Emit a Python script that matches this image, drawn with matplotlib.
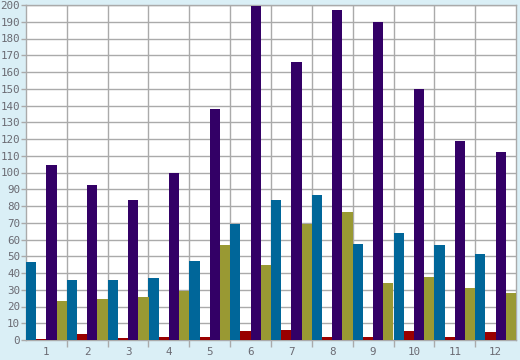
import numpy as np
import matplotlib.pyplot as plt
from matplotlib.ticker import MultipleLocator, FixedLocator

months = ["1", "2", "3", "4", "5", "6", "7", "8", "9", "10", "11", "12"]
blue_vals = [46.7, 35.8, 35.8, 37.0, 47.2, 69.3, 83.6, 86.6, 57.3, 63.9, 56.7, 51.3]
red_vals = [0.4, 3.6, 1.2, 1.8, 2.0, 5.4, 6.0, 1.8, 1.8, 5.4, 1.8, 4.8]
purple_vals = [104.5, 92.5, 83.6, 99.7, 137.9, 199.4, 166.0, 197.0, 189.9, 149.9, 118.8, 112.2]
olive_vals = [23.3, 24.5, 25.7, 29.3, 56.7, 44.8, 69.3, 76.4, 34.0, 37.6, 31.0, 28.0]

bg = "#daeff6"
grid_c = "#aaaaaa"
txt_c = "#6a6a72"

fig = plt.figure(figsize=(5.2, 3.6), dpi=100, facecolor=bg)
ax = fig.add_axes([26/520, 20/360, 490/520, 335/360])
ax.set_facecolor("white")

x = np.arange(len(months))
w = 0.25
series = [(blue_vals, "#006699"), (red_vals, "#990000"),
          (purple_vals, "#330066"), (olive_vals, "#999933")]
for k, (vals, col) in enumerate(series):
    ax.bar(x - 0.375 + k * w, vals, width=w, color=col, linewidth=0, zorder=3)

ax.set_xlim(-0.5, len(months) - 0.5)
ax.set_ylim(0, 200)
ax.yaxis.set_major_locator(MultipleLocator(10))

# group separators as ticks/grid, labels at group centres
ax.xaxis.set_major_locator(FixedLocator(x))
ax.set_xticklabels(months)
ax.xaxis.set_minor_locator(FixedLocator(np.arange(0.5, len(months) - 0.5, 1)))
ax.tick_params(axis="x", which="major", length=0, pad=5)
ax.tick_params(axis="x", which="minor", length=5, color=grid_c, width=1)
ax.tick_params(axis="y", length=3.5, color=grid_c, width=1, pad=0.8)
ax.tick_params(labelsize=7.8, labelcolor=txt_c)
for lab in ax.get_xticklabels() + ax.get_yticklabels():
    lab.set_family("DejaVu Sans Mono")

ax.grid(True, axis="y", which="major", color=grid_c, linewidth=1, zorder=0)
ax.grid(True, axis="x", which="minor", color=grid_c, linewidth=1, zorder=0)
ax.grid(False, axis="x", which="major")
ax.set_axisbelow(True)
for s in ax.spines.values():
    s.set_color(grid_c)
    s.set_linewidth(1)

fig.savefig("out.png", dpi=100, facecolor=bg)
